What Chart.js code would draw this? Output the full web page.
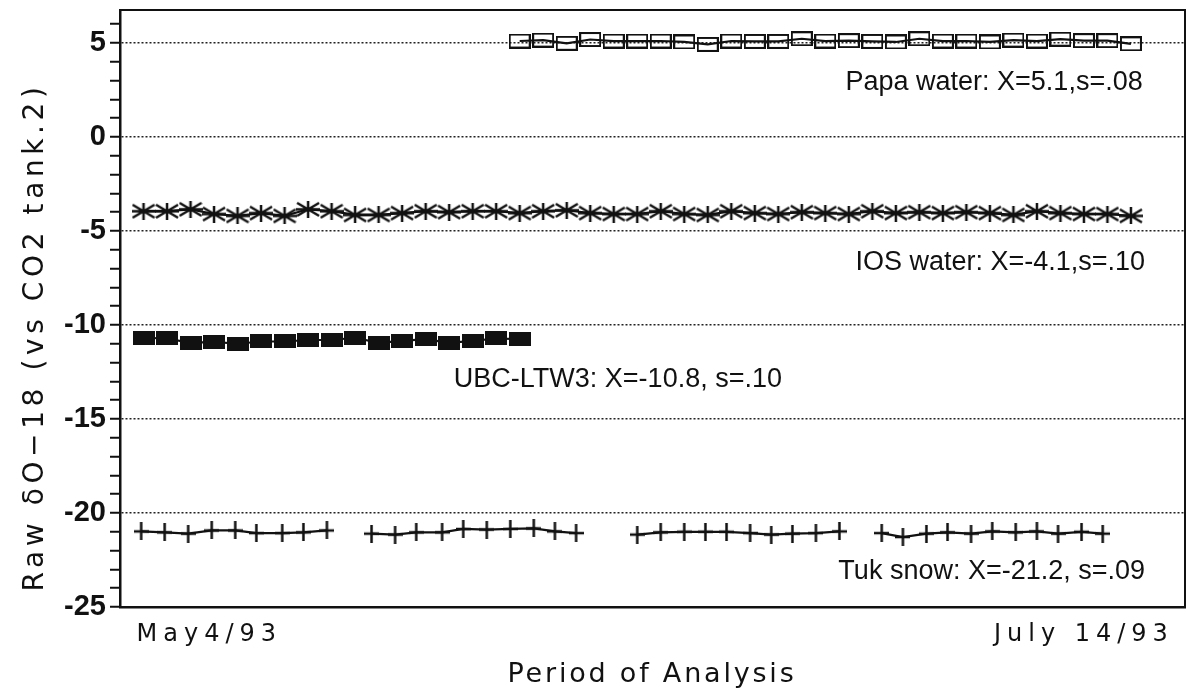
<!DOCTYPE html>
<html>
<head>
<meta charset="utf-8">
<script src="https://cdn.jsdelivr.net/npm/chart.js@4/dist/chart.umd.min.js"></script>
<style>
  html, body { margin: 0; padding: 0; background: #fff; }
  #chart { display: block; }
</style>
</head>
<body>
<canvas id="chart" width="1187" height="696"></canvas>
<script>
// Series values (raw dO-18)
const papaStart = 17;
const papaValues = [5.10, 5.15, 4.98, 5.18, 5.10, 5.10, 5.10, 5.05, 4.92, 5.10, 5.08, 5.08, 5.22, 5.10,
  5.12, 5.08, 5.05, 5.22, 5.10, 5.10, 5.05, 5.15, 5.10, 5.20, 5.12, 5.12, 4.95];

const iosStart = 1;
const iosValues = [-3.95, -3.95, -3.85, -4.10, -4.20, -4.05, -4.20, -3.85, -3.95, -4.15, -4.15, -4.05, -3.95, -4.00,
  -3.95, -3.95, -4.05, -3.95, -3.90, -4.05, -4.10, -4.10, -3.95, -4.10, -4.15, -3.95, -4.05, -4.10, -4.00,
  -4.05, -4.10, -3.95, -4.05, -4.00, -4.05, -4.00, -4.05, -4.15, -3.95, -4.05, -4.10, -4.10, -4.20];

const ubcStart = 1;
const ubcValues = [-10.68, -10.72, -10.95, -10.90, -11.00, -10.88, -10.88, -10.80, -10.80, -10.68,
  -10.95, -10.85, -10.75, -10.95, -10.85, -10.72, -10.75];

// Tuk snow was run in four batches, so it has its own run positions
const tukX = [0.9, 1.9, 2.9, 3.9, 4.9, 5.8, 6.9, 7.8, 8.8,
  10.7, 11.7, 12.6, 13.7, 14.6, 15.6, 16.6, 17.6, 18.5, 19.4,
  22.0, 23.0, 24.0, 24.9, 25.8, 26.8, 27.7, 28.6, 29.6, 30.6,
  32.4, 33.3, 34.3, 35.2, 36.2, 37.1, 38.1, 39.0, 39.9, 40.9, 41.8];
const tukValues = [-20.98, -21.03, -21.10, -20.93, -20.93, -21.07, -21.07, -21.03, -20.93,
  -21.10, -21.15, -21.03, -21.03, -20.85, -20.88, -20.85, -20.82, -20.98, -21.07,
  -21.15, -21.03, -21.00, -21.00, -21.00, -21.07, -21.15, -21.10, -21.07, -20.98,
  -21.07, -21.28, -21.10, -21.03, -21.10, -20.98, -21.03, -20.98, -21.10, -21.00, -21.10];

// x axis labels
const xTickValues = [3.8, 41.0];
const xTickLabels = ['May4/93', 'July 14/93'];

// series notes
const noteTexts = ['Papa water: X=5.1,s=.08', 'IOS water: X=-4.1,s=.10', 'UBC-LTW3: X=-10.8, s=.10', 'Tuk snow: X=-21.2, s=.09'];
const noteX = [43.5, 43.6, 14.2, 43.6];
const noteY = [2.9, -6.7, -12.9, -23.1];
const noteAlign = ['right', 'right', 'left', 'right'];

const ink = '#111';

function toPoints(start, values) {
  return values.map((v, i) => ({ x: start + i, y: v }));
}

// marker images
function makeMarker(w, h, draw) {
  const c = document.createElement('canvas');
  c.width = w;
  c.height = h;
  const g = c.getContext('2d');
  g.strokeStyle = ink;
  g.fillStyle = ink;
  g.lineWidth = 2.5;
  draw(g, w, h);
  return c;
}

const boxOpen = makeMarker(22, 15, (g, w, h) => { g.lineWidth = 2; g.strokeRect(1, 1, w - 2, h - 2); });
const boxFilled = makeMarker(22, 14, (g, w, h) => g.fillRect(0, 0, w, h));
const asterisk = makeMarker(24, 17, (g, w, h) => {
  g.beginPath();
  g.moveTo(w / 2, 0); g.lineTo(w / 2, h);
  g.moveTo(1, 2); g.lineTo(w - 1, h - 2);
  g.moveTo(w - 1, 2); g.lineTo(1, h - 2);
  g.moveTo(0, h / 2); g.lineTo(w, h / 2);
  g.stroke();
});
const plus = makeMarker(15, 18, (g, w, h) => {
  g.beginPath();
  g.moveTo(w / 2, 0); g.lineTo(w / 2, h);
  g.moveTo(0, h / 2); g.lineTo(w, h / 2);
  g.stroke();
});

function series(data, marker) {
  return {
    data: data,
    borderColor: ink,
    borderWidth: 2.2,
    pointStyle: marker,
    pointRadius: 10,
    tension: 0,
    fill: false
  };
}

// frame, notes, x labels and axis titles
const textPlugin = {
  id: 'textPlugin',
  afterDraw(chart) {
    const { ctx, chartArea: a, scales: { x, y } } = chart;
    ctx.save();
    ctx.strokeStyle = ink;
    ctx.fillStyle = ink;
    ctx.lineWidth = 2;
    ctx.beginPath();
    ctx.moveTo(a.left, a.top);
    ctx.lineTo(a.right, a.top);
    ctx.lineTo(a.right, a.bottom);
    ctx.stroke();

    ctx.textBaseline = 'middle';
    ctx.font = '27px "Liberation Sans", Arial, sans-serif';
    noteTexts.forEach((t, i) => {
      ctx.textAlign = noteAlign[i];
      ctx.fillText(t, x.getPixelForValue(noteX[i]), y.getPixelForValue(noteY[i]));
    });

    ctx.font = '24px "DejaVu Sans", sans-serif';
    ctx.letterSpacing = '6px';
    ctx.textAlign = 'center';
    xTickLabels.forEach((t, i) => {
      ctx.fillText(t, x.getPixelForValue(xTickValues[i]), a.bottom + 28);
    });

    ctx.font = '27px "DejaVu Sans", sans-serif';
    ctx.letterSpacing = '2.8px';
    ctx.fillText('Period of Analysis', 652, 675);

    ctx.translate(36, 337);
    ctx.rotate(-Math.PI / 2);
    ctx.font = '28px "DejaVu Sans", sans-serif';
    ctx.letterSpacing = '4.6px';
    ctx.fillText('Raw \u03B4O\u221218 (vs CO2 tank.2)', 0, 0);
    ctx.restore();
  }
};

new Chart(document.getElementById('chart'), {
  type: 'line',
  data: {
    datasets: [
      series(toPoints(papaStart, papaValues), boxOpen),
      series(toPoints(iosStart, iosValues), asterisk),
      series(toPoints(ubcStart, ubcValues), boxFilled),
      Object.assign(series(tukX.map((v, i) => ({ x: v, y: tukValues[i] })), plus), {
        // break the line between batches
        segment: { borderColor: c => (c.p1.parsed.x - c.p0.parsed.x > 1.5 ? 'transparent' : ink) }
      })
    ]
  },
  options: {
    responsive: false,
    animation: false,
    layout: { autoPadding: false, padding: { top: 10, right: 2, left: 0, bottom: 0 } },
    plugins: {
      legend: { display: false },
      tooltip: { enabled: false }
    },
    scales: {
      x: {
        type: 'linear',
        min: 0,
        max: 45.3,
        ticks: { display: false },
        grid: { display: false, drawTicks: false },
        border: { color: ink, width: 2.5 },
        afterFit: s => {
          s.height = 89;
          s.paddingLeft = 0;
          s.paddingRight = 0;
        }
      },
      y: {
        min: -25,
        max: 6.75,
        ticks: {
          stepSize: 1,
          includeBounds: false,
          autoSkip: false,
          padding: 4,
          color: ink,
          font: { family: '"Liberation Sans", Arial, sans-serif', size: 29, weight: 'bold' },
          callback: v => (v % 5 === 0 ? v : '')
        },
        grid: {
          color: c => (c.tick && c.tick.value % 5 === 0 && c.tick.value > -25 ? '#222' : 'transparent'),
          lineWidth: 1.5,
          tickColor: ink,
          tickLength: 10,
          tickWidth: 2,
          tickBorderDash: []
        },
        border: { color: ink, width: 2.5, dash: [2, 2] },
        afterFit: s => {
          s.width = 120;
          s.paddingTop = 0;
          s.paddingBottom = 0;
        }
      }
    }
  },
  plugins: [textPlugin]
});
</script>
</body>
</html>
